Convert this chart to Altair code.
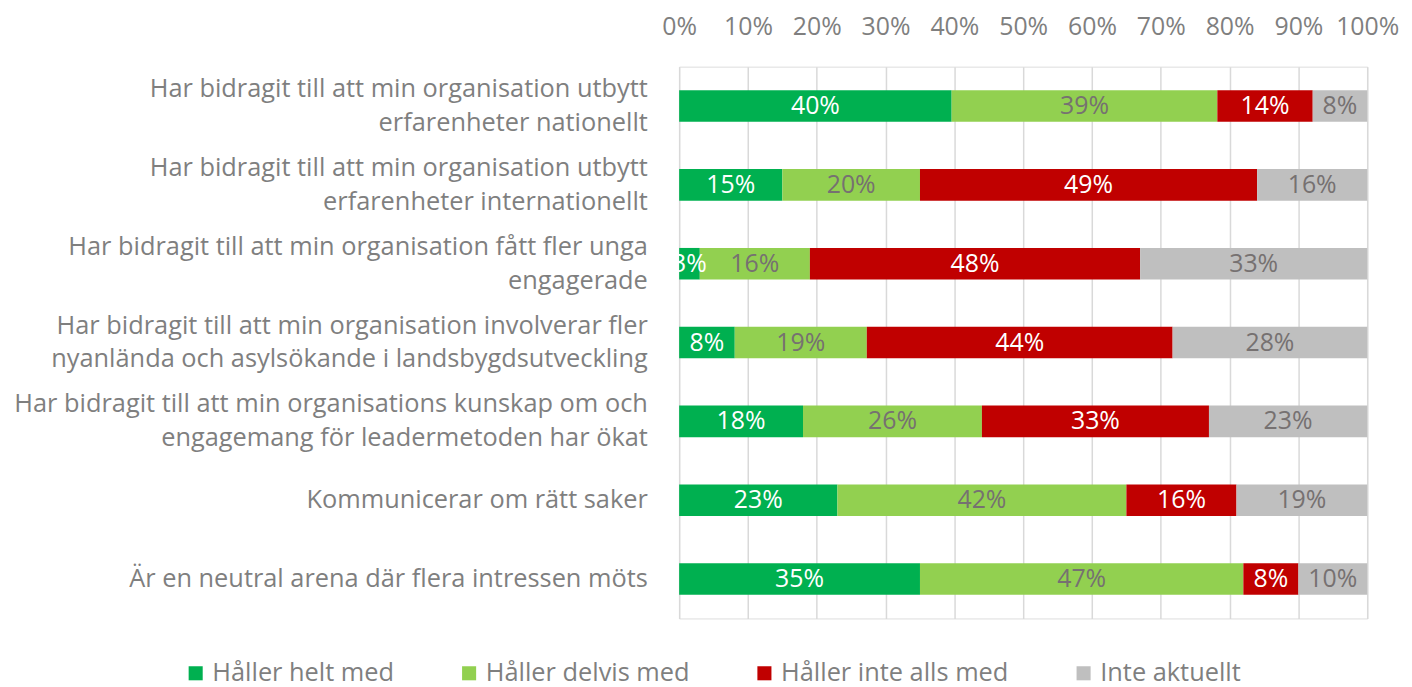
import altair as alt
import pandas as pd

items = [
    "Har bidragit till att min organisation utbytt|erfarenheter nationellt",
    "Har bidragit till att min organisation utbytt|erfarenheter internationellt",
    "Har bidragit till att min organisation fått fler unga|engagerade",
    "Har bidragit till att min organisation involverar fler|nyanlända och asylsökande i landsbygdsutveckling",
    "Har bidragit till att min organisations kunskap om och|engagemang för leadermetoden har ökat",
    "Kommunicerar om rätt saker",
    "Är en neutral arena där flera intressen möts",
]
categories = ["Håller helt med", "Håller delvis med", "Håller inte alls med", "Inte aktuellt"]
helt = [40, 15, 3, 8, 18, 23, 35]
delvis = [39, 20, 16, 19, 26, 42, 47]
inte = [14, 49, 48, 44, 33, 16, 8]
ej_aktuellt = [8, 16, 33, 28, 23, 19, 10]
colors = ["#00b050", "#92d050", "#c00000", "#bfbfbf"]

rows = []
for i, it in enumerate(items):
    for j, (c, vals) in enumerate(zip(categories, [helt, delvis, inte, ej_aktuellt])):
        rows.append({"item": it, "cat": c, "value": vals[i], "o": j})
df = pd.DataFrame(rows)

FONT = "Open Sans"
GRAY = "#7f7f7f"

base = alt.Chart(df)

bars = base.mark_bar().encode(
    y=alt.Y("item:N", sort=items, title=None,
            scale=alt.Scale(paddingInner=0.6, paddingOuter=0.3),
            axis=alt.Axis(labelExpr="split(datum.label, '|')", labelFontSize=25.5,
                          labelColor=GRAY, labelFont=FONT, labelLineHeight=34,
                          labelOffset={"condition": {"test": "indexof(datum.label, '|') >= 0", "value": -17}, "value": 0},
                          labelPadding=32, ticks=False, domain=False, labelLimit=800)),
    x=alt.X("value:Q", stack="normalize", title=None,
            scale=alt.Scale(domain=[0, 1]),
            axis=alt.Axis(orient="top", format=".0%", values=[i / 10 for i in range(11)],
                          labelFontSize=25, labelColor=GRAY, labelFont=FONT,
                          labelPadding=27, ticks=False, domain=False,
                          gridColor="#d9d9d9", gridWidth=1.5, labelFlush=False)),
    color=alt.Color("cat:N", sort=categories,
                    scale=alt.Scale(domain=categories, range=colors),
                    legend=alt.Legend(title=None, orient="none", direction="horizontal",
                                      legendX=-499, legendY=597,
                                      symbolType="square", symbolSize=200,
                                      symbolStrokeWidth=0, labelLimit=600,
                                      labelFontSize=25.5, labelColor=GRAY, labelFont=FONT,
                                      columnPadding=62, labelOffset=4)),
    order=alt.Order("o:Q"),
)

labels = base.transform_stack(
    stack="value", groupby=["item"], as_=["v0", "v1"], offset="normalize",
    sort=[alt.SortField("o", order="ascending")]
).transform_calculate(
    mid="(datum.v0 + datum.v1) / 2",
    lbl="datum.value + '%'",
    tc="(datum.cat == 'Håller helt med' || datum.cat == 'Håller inte alls med') ? 'white' : '#767171'",
).mark_text(fontSize=25, font=FONT, baseline="middle", align="center").encode(
    y=alt.Y("item:N", sort=items),
    x=alt.X("mid:Q"),
    text="lbl:N",
    color=alt.Color("tc:N", scale=None, legend=None),
)

chart = alt.layer(bars, labels).resolve_scale(color="independent").properties(
    width=692, height=555
).configure_view(stroke=None).configure(background="white")

chart.save("out.html", embed_options={"renderer": "svg", "actions": False})
